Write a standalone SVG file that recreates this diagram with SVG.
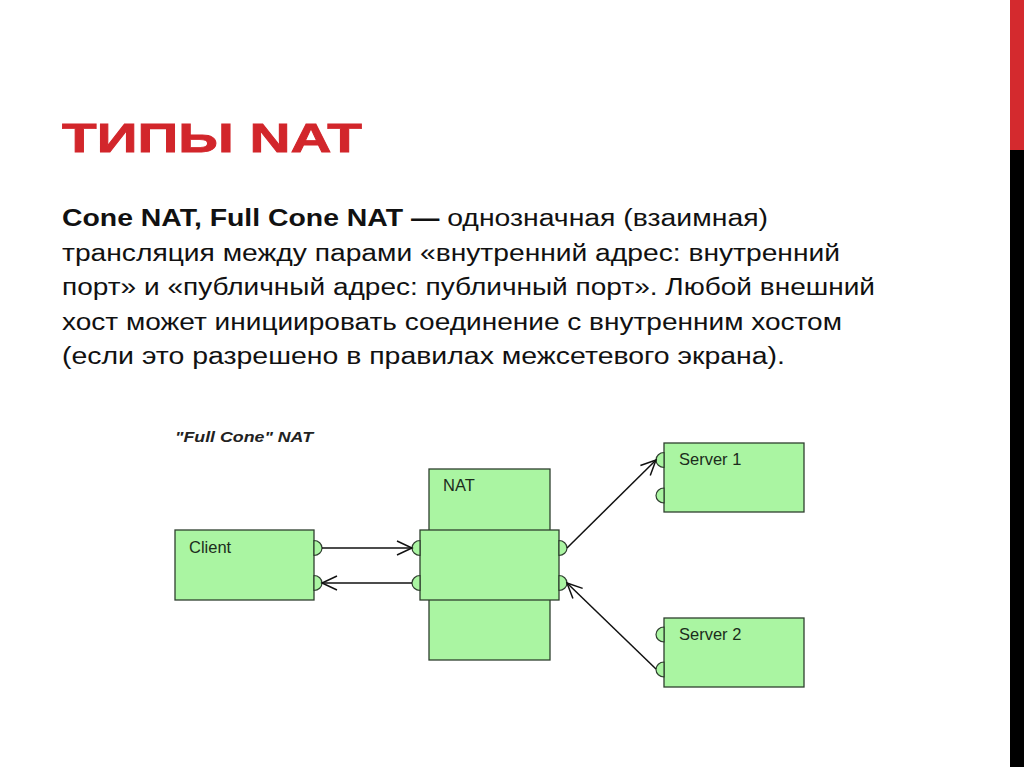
<svg xmlns="http://www.w3.org/2000/svg" width="1024" height="767" viewBox="0 0 1024 767">
<style>
.title{font-family:"Liberation Sans",Arial,sans-serif;font-weight:bold;font-size:41px;fill:#d2262b;stroke:#d2262b;stroke-width:0.8}
.body{font-family:"Liberation Sans",Arial,sans-serif;font-size:23.5px;fill:#111}
.b{font-weight:bold}
.cap{font-family:"Liberation Sans",Arial,sans-serif;font-style:italic;font-weight:bold;font-size:15.5px;fill:#222}
.box{fill:#aaf5a2;stroke:#2f3f2f;stroke-width:1.3}
.port{fill:#aaf5a2;stroke:#2f3f2f;stroke-width:1.2}
.lbl{font-family:"Liberation Sans",Arial,sans-serif;font-size:16.5px;fill:#1c2c1c}
.conn{stroke:#111;stroke-width:1.5;fill:none;marker-end:url(#arr)}
</style>
<defs>
<marker id="arr" markerWidth="18" markerHeight="18" refX="16" refY="9" orient="auto" markerUnits="userSpaceOnUse">
<path d="M1,2 L16,9 L1,16" fill="none" stroke="#111" stroke-width="1.5"/>
</marker>
</defs>
<rect x="0" y="0" width="1024" height="767" fill="#fff"/>
<rect x="1010" y="0" width="14" height="150" fill="#d42a2e"/>
<rect x="1010" y="150" width="14" height="617" fill="#000"/>
<text class="title" x="62" y="152" textLength="300" lengthAdjust="spacingAndGlyphs">ТИПЫ NAT</text>
<g id="body">
<text class="body" x="62" y="226" textLength="706" lengthAdjust="spacingAndGlyphs"><tspan class="b">Cone NAT, Full Cone NAT —</tspan> однозначная (взаимная)</text>
<text class="body" x="62" y="261" textLength="778" lengthAdjust="spacingAndGlyphs">трансляция между парами «внутренний адрес: внутренний</text>
<text class="body" x="62" y="295" textLength="813" lengthAdjust="spacingAndGlyphs">порт» и «публичный адрес: публичный порт». Любой внешний</text>
<text class="body" x="62" y="330" textLength="780" lengthAdjust="spacingAndGlyphs">хост может инициировать соединение с внутренним хостом</text>
<text class="body" x="62" y="364" textLength="723" lengthAdjust="spacingAndGlyphs">(если это разрешено в правилах межсетевого экрана).</text>
</g>
<text class="cap" x="175" y="442" textLength="138" lengthAdjust="spacingAndGlyphs">"Full Cone" NAT</text>
<g id="nat">
<rect class="box" x="429" y="469" width="121" height="191"/>
<rect class="box" x="420" y="530" width="139" height="70"/>
<path class="port" d="M420,540.5 A8,7.5 0 0 0 420,555.5 Z"/>
<path class="port" d="M420,575.5 A8,7.5 0 0 0 420,590.5 Z"/>
<path class="port" d="M559,540.5 A8,7.5 0 0 1 559,555.5 Z"/>
<path class="port" d="M559,575.5 A8,7.5 0 0 1 559,590.5 Z"/>
<text class="lbl" x="443" y="491">NAT</text>
</g>
<g id="client">
<rect class="box" x="175" y="530" width="139" height="70"/>
<path class="port" d="M314,540.5 A8,7.5 0 0 1 314,555.5 Z"/>
<path class="port" d="M314,575.5 A8,7.5 0 0 1 314,590.5 Z"/>
<text class="lbl" x="189" y="553">Client</text>
</g>
<g id="server1">
<rect class="box" x="664" y="443" width="140" height="69"/>
<path class="port" d="M664,452.5 A8,7.5 0 0 0 664,467.5 Z"/>
<path class="port" d="M664,488 A8,7.5 0 0 0 664,503 Z"/>
<text class="lbl" x="679" y="465">Server 1</text>
</g>
<g id="server2">
<rect class="box" x="664" y="618" width="140" height="69"/>
<path class="port" d="M664,627 A8,7.5 0 0 0 664,642 Z"/>
<path class="port" d="M664,662 A8,7.5 0 0 0 664,677 Z"/>
<text class="lbl" x="679" y="640">Server 2</text>
</g>
<g id="connectors">
<line class="conn" x1="322" y1="548" x2="412" y2="548"/>
<line class="conn" x1="412" y1="583" x2="322" y2="583"/>
<line class="conn" x1="567" y1="548" x2="656" y2="460"/>
<line class="conn" x1="656" y1="669" x2="567" y2="583"/>
</g>
</svg>
